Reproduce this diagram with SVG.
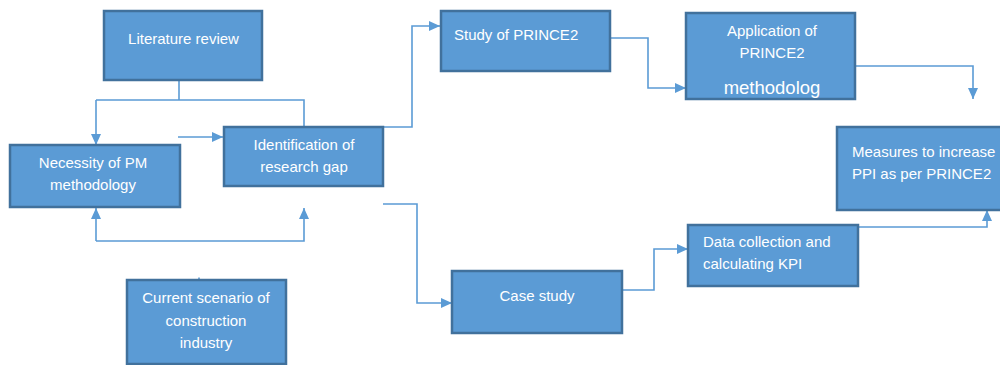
<svg xmlns="http://www.w3.org/2000/svg" width="1000" height="365" viewBox="0 0 1000 365">
<defs>
<style>
.box{fill:#5B9BD5;stroke:#41719C;stroke-width:2.5}
.t{font-family:"Liberation Sans",Arial,sans-serif;font-size:15px;fill:#FFFFFF}
.c{text-anchor:middle}
.ar{font-family:"Liberation Sans",Arial,sans-serif;font-size:18.5px;fill:#FFFFFF;text-anchor:middle}
.ln{fill:none;stroke:#5B9BD5;stroke-width:1.6}
</style>
<marker id="ah" markerUnits="userSpaceOnUse" markerWidth="12" markerHeight="12" viewBox="0 0 12 12" refX="11" refY="6" orient="auto">
<path d="M0,1 L11,6 L0,11 Z" fill="#5B9BD5"/>
</marker>
</defs>
<rect width="1000" height="365" fill="#FFFFFF"/>
<g id="connectors">
<path class="ln" d="M179,80 V100"/>
<path class="ln" d="M96,100 H304 V127"/>
<path class="ln" d="M96,100 V145" marker-end="url(#ah)"/>
<path class="ln" d="M178,137 H223" marker-end="url(#ah)"/>
<path class="ln" d="M96,241 V208" marker-end="url(#ah)"/>
<path class="ln" d="M96,241 H304 V208" marker-end="url(#ah)"/>
<path class="ln" d="M199,277.5 V280"/>
<path class="ln" d="M383,127 H412 V26 H440" marker-end="url(#ah)"/>
<path class="ln" d="M383,204 H417 V303 H452" marker-end="url(#ah)"/>
<path class="ln" d="M610,38 H648 V88 H686" marker-end="url(#ah)"/>
<path class="ln" d="M855,66 H973 V99" marker-end="url(#ah)"/>
<path class="ln" d="M622,290 H654 V249 H688" marker-end="url(#ah)"/>
<path class="ln" d="M858,227 H987 V210" marker-end="url(#ah)"/>
</g>
<g id="literature-review">
<rect class="box" x="104" y="11" width="158" height="69"/>
<text class="t c" x="183.5" y="44">Literature review</text>
</g>
<g id="necessity">
<rect class="box" x="10" y="145" width="170" height="62"/>
<text class="t c" x="93" y="168">Necessity of PM</text>
<text class="t c" x="93" y="190">methodology</text>
</g>
<g id="identification">
<rect class="box" x="224" y="127" width="159" height="59"/>
<text class="t c" x="304" y="150">Identification of</text>
<text class="t c" x="304" y="172">research gap</text>
</g>
<g id="current-scenario">
<rect class="box" x="127" y="280" width="159" height="84"/>
<text class="t c" x="206" y="303">Current scenario of</text>
<text class="t c" x="206" y="326">construction</text>
<text class="t c" x="206" y="348">industry</text>
</g>
<g id="study-prince2">
<rect class="box" x="441" y="11" width="169" height="60"/>
<text class="t" x="454" y="40">Study of PRINCE2</text>
</g>
<g id="application-prince2">
<rect class="box" x="686" y="13" width="169" height="86"/>
<text class="t c" x="772" y="36">Application of</text>
<text class="t c" x="772" y="58">PRINCE2</text>
<text class="ar" x="772" y="94">methodolog</text>
</g>
<g id="measures">
<rect class="box" x="837" y="127" width="175" height="83"/>
<text class="t" x="852" y="157">Measures to increase</text>
<text class="t" x="852" y="179">PPI as per PRINCE2</text>
</g>
<g id="case-study">
<rect class="box" x="452" y="271" width="170" height="62"/>
<text class="t c" x="537" y="301">Case study</text>
</g>
<g id="data-collection">
<rect class="box" x="688" y="225" width="170" height="61"/>
<text class="t" x="703" y="247">Data collection and</text>
<text class="t" x="703" y="269">calculating KPI</text>
</g>
</svg>
